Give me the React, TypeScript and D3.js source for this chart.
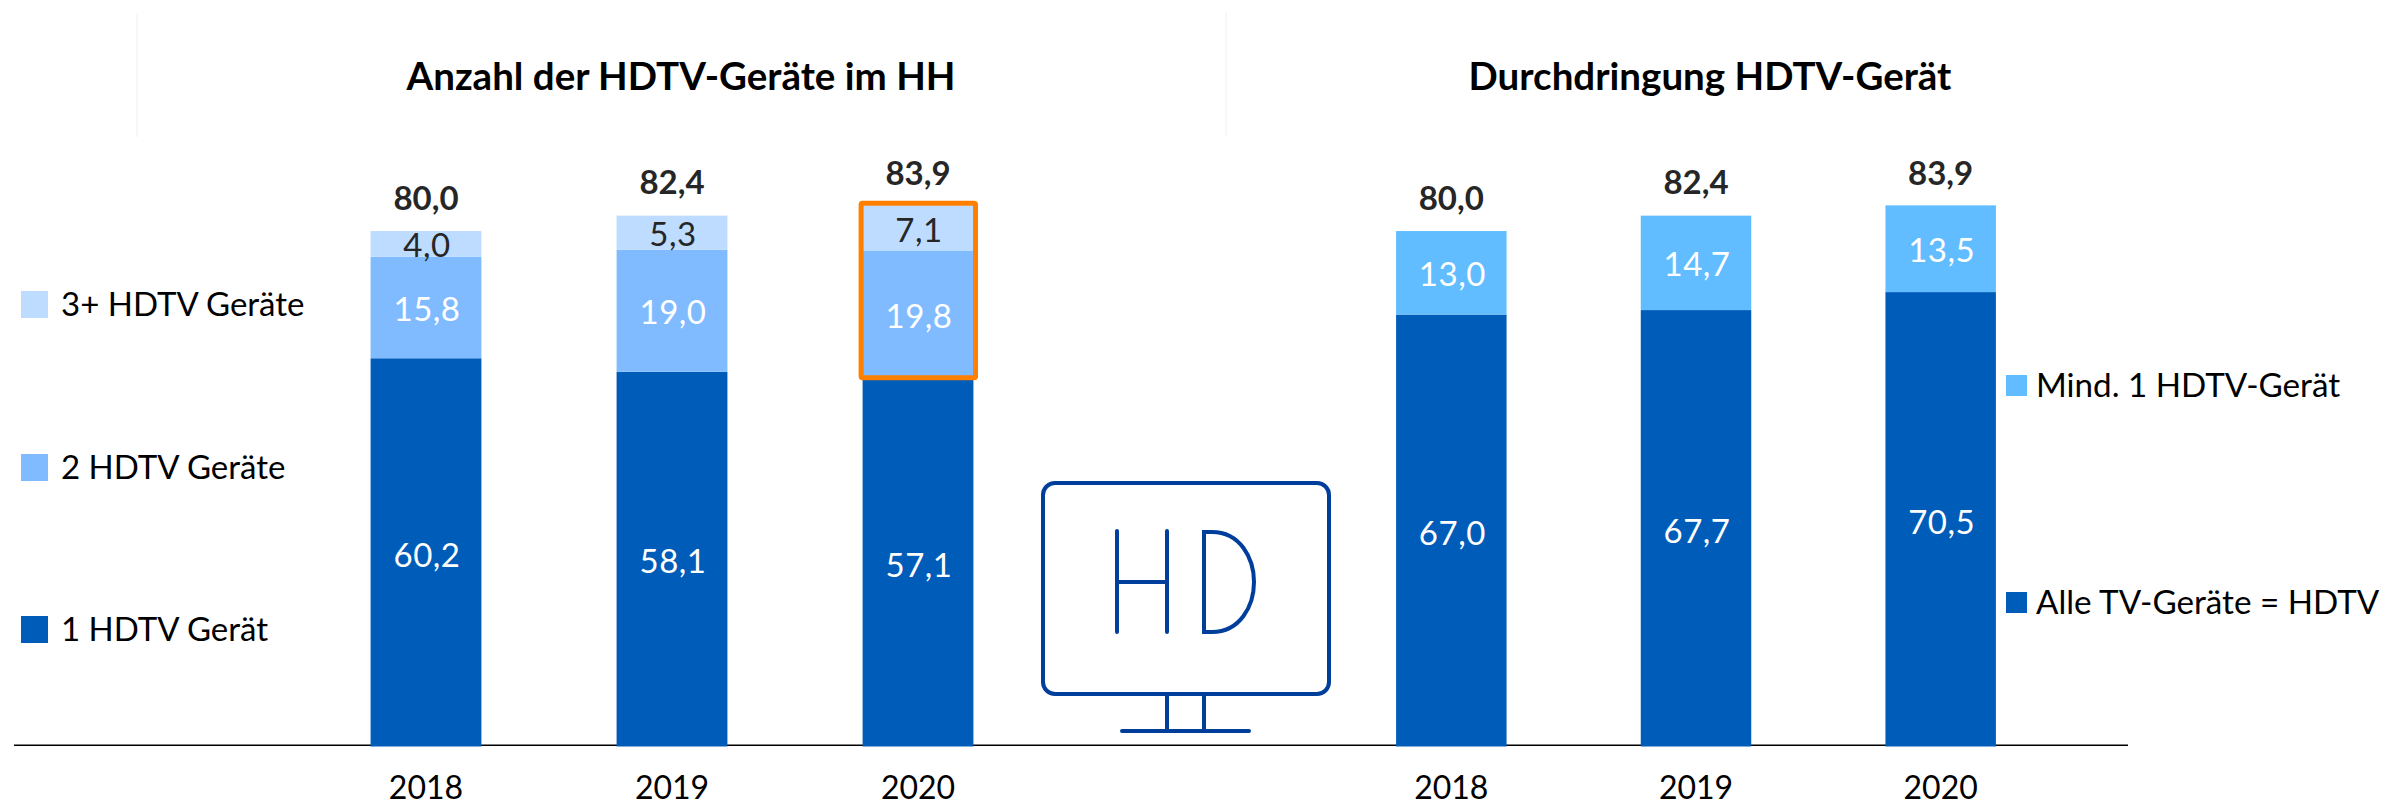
import React from "react";
import * as d3 from "d3";

const W = 2401, H = 806;
const years = ["2018", "2019", "2020"];
const oneDevice = [60.2, 58.1, 57.1];
const twoDevices = [15.8, 19.0, 19.8];
const threePlus = [4.0, 5.3, 7.1];
const allHdtv = [67.0, 67.7, 70.5];
const minOne = [13.0, 14.7, 13.5];
const totals = [80.0, 82.4, 83.9];
const FONT = "Lato, Carlito, Calibri, sans-serif";
const DARK = "#005CB9", MID = "#80BBFF", LIGHT = "#BDDCFF", SKY = "#61BDFF", ORANGE = "#FF7F00", ICON = "#003E9B";
const fmt = (v: number) => v.toFixed(1).replace(".", ",");

const y = d3.scaleLinear().domain([0, 83.9]).range([745, 206]);
const xLeft = d3.scaleBand().domain(years).range([303, 1041]).paddingInner(0.5495).paddingOuter(0.2747);
const xRight = d3.scaleBand().domain(years).range([1329, 2063]).paddingInner(0.5485).paddingOuter(0.2742);

type Seg = { name: string; values: number[]; fill: string; color: string };
const leftSegs: Seg[] = [
  { name: "1 HDTV Gerät", values: oneDevice, fill: DARK, color: "#fff" },
  { name: "2 HDTV Geräte", values: twoDevices, fill: MID, color: "#fff" },
  { name: "3+ HDTV Geräte", values: threePlus, fill: LIGHT, color: "#262626" },
];
const rightSegs: Seg[] = [
  { name: "Alle TV-Geräte = HDTV", values: allHdtv, fill: DARK, color: "#fff" },
  { name: "Mind. 1 HDTV-Gerät", values: minOne, fill: SKY, color: "#fff" },
];

function Stack({ segs, x }: { segs: Seg[]; x: d3.ScaleBand<string> }) {
  const layout = d3.stack<string>()
    .keys(segs.map((s) => s.name))
    .value((yr, key) => segs.find((s) => s.name === key)!.values[years.indexOf(yr)])(years);
  const bw = x.bandwidth();
  return (
    <g>
      {layout.map((ser, si) =>
        ser.map((d, i) => {
          const yr = years[i];
          const top = y(d[1]), bot = y(d[0]);
          return (
            <g key={yr + si}>
              <rect x={x(yr)} y={top} width={bw} height={bot - top + (si === 0 ? 1.5 : 0)} fill={segs[si].fill} />
              <text x={x(yr)! + bw / 2 + 1} y={(top + bot) / 2 + (si === 0 ? 15 : 13.5)} textAnchor="middle"
                fontSize={33} letterSpacing={0.5} fill={segs[si].color} fontFamily={FONT}>
                {fmt(segs[si].values[i])}
              </text>
            </g>
          );
        })
      )}
      {years.map((yr, i) => (
        <g key={yr}>
          <text x={x(yr)! + bw / 2} y={y(totals[i]) - 21.5} textAnchor="middle" fontSize={33} fontWeight={700} fill="#262626" fontFamily={FONT}>
            {fmt(totals[i])}
          </text>
          <text x={x(yr)! + bw / 2} y={799} textAnchor="middle" fontSize={32} fill="#000" fontFamily={FONT}>
            {yr}
          </text>
        </g>
      ))}
    </g>
  );
}

const legendLeft = [
  { label: "3+ HDTV Geräte", fill: LIGHT, y: 291 },
  { label: "2 HDTV Geräte", fill: MID, y: 454 },
  { label: "1 HDTV Gerät", fill: DARK, y: 616 },
];
const legendRight = [
  { label: "Mind. 1 HDTV-Gerät", fill: SKY, y: 375 },
  { label: "Alle TV-Geräte = HDTV", fill: DARK, y: 592 },
];

export default function App() {
  const barTop = y(totals[2]);
  const lineBot = y(oneDevice[2]);
  const xo = xLeft("2020")!, bw = xLeft.bandwidth();
  return (
    <svg width={W} height={H} viewBox={`0 0 ${W} ${H}`} style={{ position: "absolute", left: 0, top: 0, background: "#fff" }}>
      <line x1={137} x2={137} y1={13} y2={137} stroke="#f0f0f0" />
      <line x1={1226} x2={1226} y1={13} y2={137} stroke="#f0f0f0" />
      <text x={681} y={89.5} textAnchor="middle" fontSize={38.5} fontWeight={700} fill="#000" fontFamily={FONT}>Anzahl der HDTV-Geräte im HH</text>
      <text x={1710} y={89.5} textAnchor="middle" fontSize={38.5} fontWeight={700} fill="#000" fontFamily={FONT}>Durchdringung HDTV-Gerät</text>
      <line x1={14} x2={2128} y1={745.3} y2={745.3} stroke="#000" strokeWidth={1.5} />
      <Stack segs={leftSegs} x={xLeft} />
      <Stack segs={rightSegs} x={xRight} />
      <rect x={xo - 1.5} y={barTop - 2.8} width={bw + 3.6} height={lineBot - barTop + 2.3} rx={1.5} fill="none" stroke={ORANGE} strokeWidth={5} strokeLinejoin="round" />
      {legendLeft.map((l) => (
        <g key={l.label}>
          <rect x={21} y={l.y} width={27} height={27} fill={l.fill} />
          <text x={61} y={l.y + 25} fontSize={33} fill="#000" fontFamily={FONT}>{l.label}</text>
        </g>
      ))}
      {legendRight.map((l) => (
        <g key={l.label}>
          <rect x={2006} y={l.y} width={21} height={21} fill={l.fill} />
          <text x={2036} y={l.y + 22} fontSize={33.2} fill="#000" fontFamily={FONT}>{l.label}</text>
        </g>
      ))}
      <g fill="none" stroke={ICON} strokeWidth={4}>
        <rect x={1043} y={483} width={286} height={211} rx={12} />
        <path d="M1117 531V632M1167 531V632M1117 582H1167" strokeLinecap="round" />
        <path d="M1204 532V632H1212C1240 632 1254 606 1254 582C1254 558 1240 532 1212 532Z" />
        <path d="M1167 694V731M1204 694V731M1122 731H1249" strokeLinecap="round" />
      </g>
    </svg>
  );
}
